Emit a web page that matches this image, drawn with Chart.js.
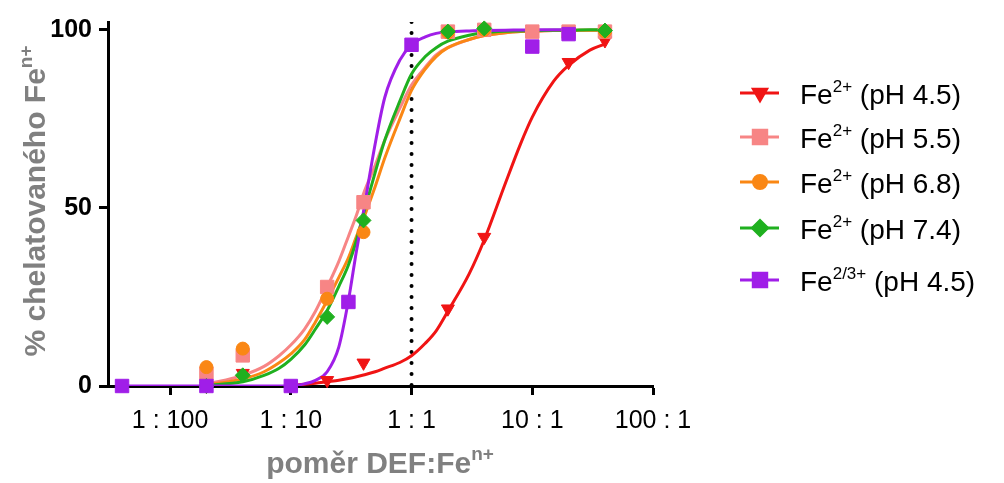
<!DOCTYPE html>
<html>
<head>
<meta charset="utf-8">
<script src="https://cdn.jsdelivr.net/npm/chart.js@4"></script>
<style>
  html, body { margin: 0; padding: 0; background: #fff; }
</style>
</head>
<body>
<canvas id="chelChart" width="1004" height="483"></canvas>
<script>
// axis ticks
const xTickValues = [0.01, 0.1, 1, 10, 100];
const xTickLabels = ['1 : 100', '1 : 10', '1 : 1', '10 : 1', '100 : 1'];
const yTickValues = [0, 50, 100];

// legend text: base + superscript + rest
const seriesBase = ['Fe', 'Fe', 'Fe', 'Fe', 'Fe'];
const seriesSup = ['2+', '2+', '2+', '2+', '2/3+'];
const seriesRest = [' (pH 4.5)', ' (pH 5.5)', ' (pH 6.8)', ' (pH 7.4)', ' (pH 4.5)'];

// measured points (ratio DEF:Fe, % chelated)
const redX = [0.02, 0.04, 0.2, 0.4, 2, 4, 20, 40];
const redY = [0, 3.6, 1.6, 6.5, 21.7, 41.8, 90.9, 97];
const pinkX = [0.02, 0.04, 0.2, 0.4, 2, 4, 10, 20, 40];
const pinkY = [3.5, 8.6, 27.8, 51.6, 99.5, 100, 99.5, 99.5, 99.5];
const orangeX = [0.02, 0.04, 0.2, 0.4, 2, 4, 40];
const orangeY = [5.3, 10.5, 24.5, 43.2, 99.3, 100, 99.5];
const greenX = [0.02, 0.04, 0.2, 0.4, 2, 4, 40];
const greenY = [0, 3, 19.4, 46.5, 99.5, 100.4, 99.8];
const purpleX = [0.004, 0.02, 0.1, 0.3, 1, 10, 20];
const purpleY = [0, 0, 0, 23.6, 95.8, 95.3, 98.8];

// fitted curves (null = not drawn there)
const curveX = [0.004, 0.01, 0.02, 0.04, 0.06, 0.08, 0.1, 0.13, 0.16, 0.2, 0.25, 0.3, 0.35, 0.4, 0.5, 0.6, 0.8, 1, 1.3, 1.6, 2, 3, 4, 6, 8, 10, 15, 20, 30, 40];
const redCurve = [null, null, null, null, null, null, 0.2, 0.5, 0.8, 1.2, 1.6, 2.1, 2.6, 3.1, 4, 5, 6.6, 8.5, 12, 15.5, 21, 31.5, 41, 57, 68, 75.5, 85.5, 90, 94.3, 96];
const pinkCurve = [null, null, 0.5, 3, 5.5, 8.5, 11.5, 16, 21, 27.8, 35, 42, 48, 54, 62, 69, 78, 84.5, 89.5, 93, 95, 97.3, 98.4, 99.2, 99.5, 99.6, 99.8, 99.8, 99.9, 99.9];
const orangeCurve = [null, null, 0.3, 2, 4, 6.5, 9, 13, 18, 24, 30.5, 36, 42, 47, 56, 64, 75, 83, 89, 92.5, 95, 97.3, 98.4, 99.2, 99.5, 99.6, 99.8, 99.8, 99.9, 99.9];
const greenCurve = [null, null, 0.2, 1.2, 3, 5, 7.5, 11.5, 16, 21.2, 28, 34, 41, 48.4, 60, 69, 80, 87.6, 92.5, 95, 96.8, 98.5, 99.2, 99.6, 99.7, 99.8, 99.9, 99.9, 100, 100];
const purpleCurve = [0, 0, 0, 0, 0, 0, 0.1, 0.6, 1.6, 4, 11, 24, 38, 49, 68, 81, 91.5, 95.8, 98, 99, 99.4, 99.7, 99.8, 99.9, 99.95, 100, 100, 100, null, null];

const FONT = 'Arial, "Liberation Sans", sans-serif';
const TITLE_GREY = '#808080';

const series = [
  { color: '#f01414', style: 'triangle', rot: 180, r: 7.5, xs: redX, ys: redY, curve: redCurve },
  { color: '#f78585', style: 'rect', rot: 0, r: 9.5, xs: pinkX, ys: pinkY, curve: pinkCurve },
  { color: '#fa8714', style: 'circle', rot: 0, r: 6.5, xs: orangeX, ys: orangeY, curve: orangeCurve },
  { color: '#1fb01f', style: 'rectRot', rot: 0, r: 7.5, xs: greenX, ys: greenY, curve: greenCurve },
  { color: '#a01ee8', style: 'rect', rot: 0, r: 9.5, xs: purpleX, ys: purpleY, curve: purpleCurve }
];

const toPoints = (xs, ys) => xs.map((x, i) => ({ x: x, y: ys[i] }))
  .filter(p => p.y !== null);

const datasets = [];
series.forEach((s, i) => {
  // markers: later series sit on top
  datasets.push({
    data: toPoints(s.xs, s.ys),
    showLine: false,
    pointStyle: s.style,
    rotation: s.rot,
    pointRadius: s.r,
    pointBackgroundColor: s.color,
    pointBorderColor: s.color,
    pointBorderWidth: 1,
    clip: false,
    order: 4 - i
  });
  datasets.push({
    data: toPoints(curveX, s.curve),
    showLine: true,
    borderColor: s.color,
    borderWidth: 3,
    pointRadius: 0,
    cubicInterpolationMode: 'monotone',
    order: 14 - i
  });
});
// dotted line at 1:1
datasets.push({
  data: [{ x: 1, y: 102.2 }, { x: 1, y: 0 }],
  showLine: true,
  borderColor: '#000',
  borderWidth: 4,
  borderDash: [0, 11],
  borderCapStyle: 'round',
  pointRadius: 0,
  order: 20
});

// text with one superscript part
function richWidth(ctx, base, sup, rest, size, weight) {
  ctx.font = weight + ' ' + size + 'px ' + FONT;
  let w = ctx.measureText(base).width + ctx.measureText(rest).width;
  ctx.font = weight + ' ' + Math.round(size * 0.62) + 'px ' + FONT;
  return w + ctx.measureText(sup).width;
}
function drawRich(ctx, base, sup, rest, x, y, size, weight, color) {
  ctx.fillStyle = color;
  ctx.textBaseline = 'alphabetic';
  ctx.textAlign = 'left';
  ctx.font = weight + ' ' + size + 'px ' + FONT;
  ctx.fillText(base, x, y);
  x += ctx.measureText(base).width;
  const big = ctx.font;
  ctx.font = weight + ' ' + Math.round(size * 0.62) + 'px ' + FONT;
  ctx.fillText(sup, x, y - size * 0.42);
  x += ctx.measureText(sup).width;
  ctx.font = big;
  ctx.fillText(rest, x, y);
}

const extras = {
  id: 'extras',
  afterDraw(chart) {
    const ctx = chart.ctx;
    ctx.save();
    // axis titles
    const xs = 30, ys = 30;
    const xw = richWidth(ctx, 'poměr DEF:Fe', 'n+', '', xs, 'bold');
    drawRich(ctx, 'poměr DEF:Fe', 'n+', '', 380 - xw / 2, 473, xs, 'bold', TITLE_GREY);
    const yw = richWidth(ctx, '% chelatovaného Fe', 'n+', '', ys, 'bold');
    ctx.translate(45, 201);
    ctx.rotate(-Math.PI / 2);
    drawRich(ctx, '% chelatovaného Fe', 'n+', '', -yw / 2, 0, ys, 'bold', TITLE_GREY);
    ctx.restore();

    // legend
    ctx.save();
    const rowY = [93, 137, 182, 228, 280];
    series.forEach((s, i) => {
      const y = rowY[i];
      ctx.strokeStyle = s.color;
      ctx.lineWidth = 3;
      ctx.beginPath();
      ctx.moveTo(740, y);
      ctx.lineTo(779, y);
      ctx.stroke();
      ctx.fillStyle = s.color;
      Chart.helpers.drawPoint(ctx, {
        pointStyle: s.style, rotation: s.rot, radius: s.r, borderWidth: 1
      }, 760, y);
      drawRich(ctx, seriesBase[i], seriesSup[i], seriesRest[i], 800, y + 11, 28, 'normal', '#000');
    });
    ctx.restore();
  }
};

const tickGrid = {
  drawOnChartArea: false,
  drawTicks: true,
  tickLength: 9,
  tickWidth: 3,
  tickColor: '#000'
};

new Chart(document.getElementById('chelChart').getContext('2d'), {
  type: 'scatter',
  data: { datasets: datasets },
  options: {
    responsive: false,
    animation: false,
    layout: { padding: { top: 22, right: 351, bottom: 0, left: 0 } },
    plugins: { legend: { display: false }, tooltip: { enabled: false } },
    scales: {
      x: {
        type: 'logarithmic',
        min: 0.00306,
        max: 100,
        afterBuildTicks: s => { s.ticks = xTickValues.map(v => ({ value: v })); },
        afterFit: s => { s.height = 97; },
        grid: tickGrid,
        border: { display: true, color: '#000', width: 3 },
        ticks: {
          color: '#000',
          font: { family: FONT, size: 25 },
          padding: 11,
          autoSkip: false,
          maxRotation: 0,
          callback: (v, i) => xTickLabels[i]
        }
      },
      y: {
        min: 0,
        max: 102.2,
        afterBuildTicks: s => { s.ticks = yTickValues.map(v => ({ value: v })); },
        afterFit: s => { s.width = 108; },
        grid: tickGrid,
        border: { display: true, color: '#000', width: 3 },
        ticks: {
          color: '#000',
          font: { family: FONT, size: 25, weight: 'bold' },
          padding: 7,
          callback: v => v
        }
      }
    }
  },
  plugins: [extras]
});
</script>
</body>
</html>
